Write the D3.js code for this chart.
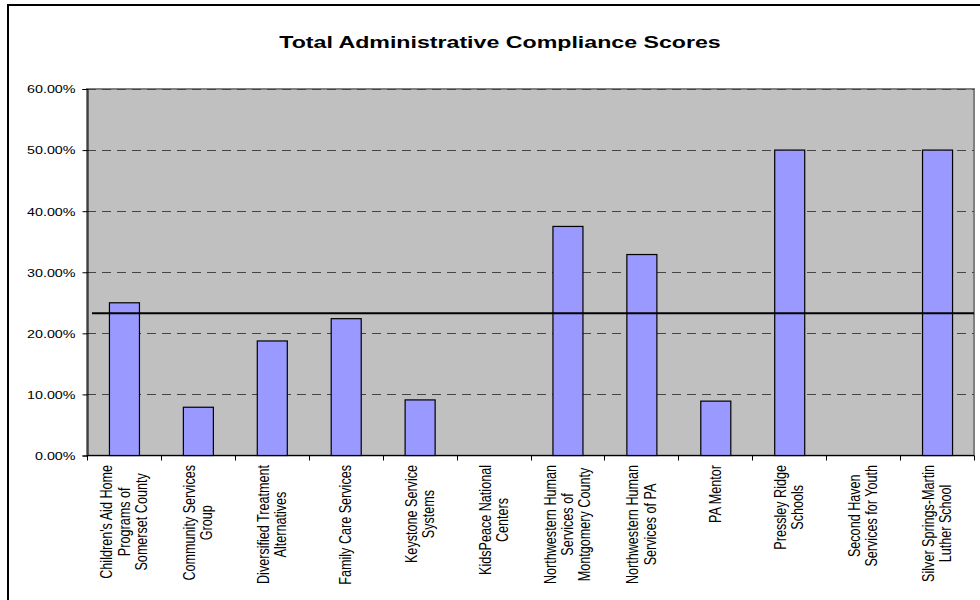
<!DOCTYPE html>
<html>
<head>
<meta charset="utf-8">
<script src="https://cdn.jsdelivr.net/npm/d3@7"></script>
<style>
  html, body { margin: 0; padding: 0; background: #ffffff; }
  svg { display: block; }
  text { font-family: "Liberation Sans", Arial, sans-serif; }
</style>
</head>
<body>
<svg id="chart" width="980" height="600"></svg>
<script>
// ---- Data ----
const title = "Total Administrative Compliance Scores";
const categories = [
  "Children's Aid Home\nPrograms of\nSomerset County",
  "Community Services\nGroup",
  "Diversified Treatment\nAlternatives",
  "Family Care Services",
  "Keystone Service\nSystems",
  "KidsPeace National\nCenters",
  "Northwestern Human\nServices of\nMontgomery County",
  "Northwestern Human\nServices of PA",
  "PA Mentor",
  "Pressley Ridge\nSchools",
  "Second Haven\nServices for Youth",
  "Silver Springs-Martin\nLuther School"
];
const scores = [0.25, 0.079, 0.1875, 0.224, 0.091, 0, 0.375, 0.329, 0.089, 0.50, 0, 0.50];
const averageScore = 0.233;
const yTicks = [0, 0.1, 0.2, 0.3, 0.4, 0.5, 0.6];

// ---- Layout ----
const svg = d3.select("#chart");
const plot = { left: 87, right: 974, top: 89, bottom: 455.5 };
const SX = 1.3; // horizontal stretch of the original picture

// outer frame
svg.append("rect")
  .attr("x", 8).attr("y", 5).attr("width", 1100).attr("height", 700)
  .attr("fill", "#ffffff").attr("stroke", "#000000").attr("stroke-width", 2);

const x = d3.scaleBand()
  .domain(categories)
  .range([plot.left, plot.right])
  .paddingInner(0.594)
  .paddingOuter(0.297);

const y = d3.scaleLinear()
  .domain([0, 0.6])
  .range([plot.bottom, plot.top]);

// plot background
svg.append("rect")
  .attr("x", plot.left).attr("y", plot.top)
  .attr("width", plot.right - plot.left).attr("height", plot.bottom - plot.top)
  .attr("fill", "#c0c0c0").attr("stroke", "#808080").attr("stroke-width", 2);

// gridlines
svg.append("g").selectAll("line")
  .data(yTicks.filter(d => d > 0))
  .join("line")
  .attr("x1", plot.left).attr("x2", plot.right)
  .attr("y1", d => Math.round(y(d)) + 0.5).attr("y2", d => Math.round(y(d)) + 0.5)
  .attr("stroke", "#444444").attr("stroke-width", 1.2)
  .attr("stroke-dasharray", "9,6");

// bars
svg.append("g").selectAll("rect")
  .data(categories.map((c, i) => ({ c, v: scores[i] })).filter(d => d.v > 0))
  .join("rect")
  .attr("x", d => x(d.c) + 0.5)
  .attr("y", d => y(d.v))
  .attr("width", x.bandwidth())
  .attr("height", d => y(0) - y(d.v))
  .attr("fill", "#9999ff").attr("stroke", "#000000").attr("stroke-width", 1.2);

// average line
svg.append("line")
  .attr("x1", plot.left + 5).attr("x2", plot.right)
  .attr("y1", y(averageScore)).attr("y2", y(averageScore))
  .attr("stroke", "#000000").attr("stroke-width", 2);

// y axis
const yAxis = d3.axisLeft(y).tickValues(yTicks).tickSize(5).tickPadding(6)
  .tickFormat(d3.format(".2%"));
const gy = svg.append("g").attr("transform", `translate(${plot.left + 0.5},0)`).call(yAxis);
gy.select(".domain").attr("stroke", "#000").attr("stroke-width", 1);
gy.selectAll(".tick line").attr("stroke", "#000");
gy.selectAll(".tick text")
  .attr("font-size", 11).attr("fill", "#000")
  .attr("x", null).attr("dy", null)
  .attr("dominant-baseline", "central")
  .attr("transform", `translate(-12,0) scale(${SX},1)`);

// x axis line and boundary ticks
svg.append("line")
  .attr("x1", plot.left).attr("x2", plot.right)
  .attr("y1", plot.bottom).attr("y2", plot.bottom)
  .attr("stroke", "#000").attr("stroke-width", 1);
const boundaries = categories.map(c => x(c) - x.step() * x.paddingInner() / 2).concat([plot.right]);
svg.append("g").selectAll("line")
  .data(boundaries)
  .join("line")
  .attr("x1", d => Math.round(d) + 0.5).attr("x2", d => Math.round(d) + 0.5)
  .attr("y1", plot.bottom).attr("y2", plot.bottom + 5)
  .attr("stroke", "#000").attr("stroke-width", 1);

// x labels (rotated, multi-line, centered lines, block top-aligned to axis)
const labelTop = 465;
const lineStep = 13.2;
categories.forEach(c => {
  const lines = c.split("\n");
  const cx = x(c) + x.bandwidth() / 2;
  const g = svg.append("g")
    .attr("transform", `translate(${cx},${labelTop}) scale(${SX},1) rotate(-90)`);
  const t = g.append("text").attr("font-size", 12.6).attr("fill", "#000")
    .attr("text-anchor", "middle").attr("dominant-baseline", "central");
  const spans = lines.map((l, i) => t.append("tspan").text(l)
    .attr("y", (i - (lines.length - 1) / 2) * lineStep));
  const maxW = d3.max(spans, s => s.node().getComputedTextLength());
  spans.forEach(s => s.attr("x", -maxW / 2));
});

// title
svg.append("text")
  .attr("transform", `translate(500,48) scale(1.34,1)`)
  .attr("text-anchor", "middle")
  .attr("font-size", 17.3).attr("font-weight", "bold").attr("fill", "#000")
  .text(title);
</script>
</body>
</html>
